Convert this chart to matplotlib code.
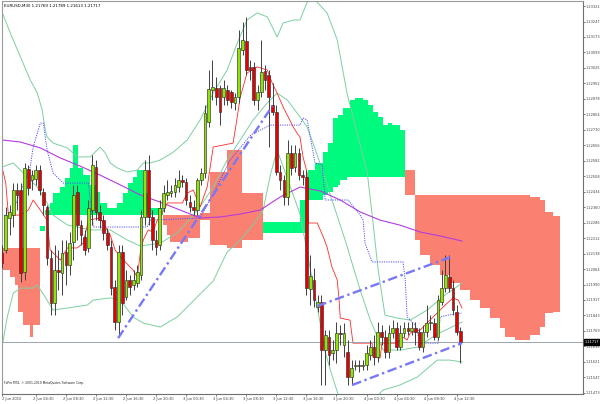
import matplotlib
matplotlib.use('Agg')
import matplotlib.pyplot as plt
import matplotlib.transforms as mtransforms
import numpy as np

title_txt = "EURUSD,M30 1.21769 1.21789 1.21613 1.21717"
copyright_txt = "FxPro MT4, \u00a9 2001-2010 MetaQuotes Software Corp."

# ---- OHLC (M30 bars, 2 Jun 2010 00:00 onwards) ----
opens = [1.22141,1.22155,1.22308,1.22322,1.22442,1.22442,1.22050,1.22542,1.22490,1.22494,
         1.22537,1.22432,1.22361,1.22117,1.21902,1.22059,1.22045,1.22145,1.22083,1.22193,
         1.22432,1.22274,1.22217,1.22165,1.22346,1.22552,1.22337,1.22298,1.22236,1.22169,
         1.21978,1.21811,1.22145,1.21930,1.22012,1.21988,1.21997,1.22035,1.22313,1.22537,
         1.22313,1.22203,1.22179,1.22356,1.22418,1.22427,1.22432,1.22456,1.22490,1.22480,
         1.22384,1.22361,1.22346,1.22490,1.22523,1.22767,1.22920,1.22929,1.22929,1.22886,
         1.22920,1.22910,1.22858,1.22886,1.23111,1.23154,1.23030,1.23030,1.22872,1.22910,
         1.23011,1.22991,1.22848,1.22815,1.22528,1.22490,1.22408,1.22619,1.22552,1.22619,
         1.22513,1.22504,1.21969,1.22012,1.21883,1.21906,1.21677,1.21739,1.21663,1.21677,
         1.21758,1.21701,1.21667,1.21548,1.21600,1.21605,1.21600,1.21605,1.21653,1.21691,
         1.21643,1.21763,1.21739,1.21667,1.21758,1.21782,1.21691,1.21758,1.21782,1.21768,
         1.21782,1.21763,1.21691,1.21763,1.21806,1.21806,1.21739,1.21906,1.21973,1.22026,
         1.21973,1.21859,1.21769]
highs = [1.22179,1.22361,1.22370,1.22475,1.22475,1.22475,1.22571,1.22561,1.22537,1.22561,
         1.22561,1.22451,1.22370,1.22155,1.22179,1.22155,1.22203,1.22203,1.22241,1.22466,
         1.22466,1.22298,1.22251,1.22394,1.22609,1.22585,1.22370,1.22322,1.22260,1.22203,
         1.22012,1.22179,1.22179,1.22059,1.22035,1.22059,1.22083,1.22346,1.22585,1.22609,
         1.22346,1.22251,1.22394,1.22466,1.22490,1.22466,1.22499,1.22537,1.22513,1.22499,
         1.22418,1.22394,1.22499,1.22547,1.22848,1.23015,1.23063,1.22982,1.22944,1.22968,
         1.22944,1.22920,1.22905,1.23207,1.23245,1.23269,1.23063,1.23054,1.22944,1.23159,
         1.23039,1.23015,1.22953,1.22848,1.22561,1.22513,1.22681,1.22657,1.22657,1.22643,
         1.22537,1.22537,1.22131,1.22069,1.21940,1.21940,1.21773,1.21773,1.21725,1.21811,
         1.21796,1.21806,1.21725,1.21629,1.21629,1.21629,1.21629,1.21701,1.21725,1.21749,
         1.21811,1.21796,1.21773,1.21796,1.21820,1.21811,1.21796,1.21811,1.21811,1.21811,
         1.21811,1.21782,1.21796,1.21892,1.21844,1.21830,1.21940,1.22059,1.22131,1.22131,
         1.22012,1.21892,1.21789]
lows = [1.22069,1.22141,1.22227,1.22265,1.22346,1.22002,1.22012,1.22418,1.22442,1.22466,
        1.22418,1.22322,1.22083,1.21844,1.21844,1.21964,1.21940,1.21988,1.22035,1.22107,
        1.22203,1.22179,1.22131,1.22145,1.22274,1.22298,1.22260,1.22203,1.22155,1.21940,
        1.21773,1.21749,1.21844,1.21916,1.21940,1.21964,1.21978,1.22012,1.22274,1.22274,
        1.22155,1.22131,1.22155,1.22337,1.22394,1.22408,1.22408,1.22432,1.22456,1.22370,
        1.22337,1.22322,1.22322,1.22466,1.22499,1.22743,1.22872,1.22848,1.22752,1.22848,
        1.22848,1.22834,1.22824,1.22858,1.23087,1.22991,1.22968,1.22848,1.22824,1.22886,
        1.22920,1.22647,1.22800,1.22513,1.22442,1.22370,1.22370,1.22513,1.22528,1.22490,
        1.22466,1.21940,1.21892,1.21883,1.21859,1.21510,1.21510,1.21605,1.21629,1.21615,
        1.21701,1.21643,1.21510,1.21510,1.21581,1.21572,1.21581,1.21581,1.21629,1.21605,
        1.21620,1.21701,1.21639,1.21639,1.21734,1.21677,1.21677,1.21739,1.21749,1.21749,
        1.21701,1.21677,1.21667,1.21739,1.21773,1.21725,1.21725,1.21892,1.21954,1.21954,
        1.21844,1.21749,1.21613]
closes = [1.22093,1.22322,1.22337,1.22442,1.22418,1.22045,1.22547,1.22451,1.22513,1.22537,
          1.22442,1.22370,1.22117,1.21902,1.22059,1.22050,1.22141,1.22083,1.22188,1.22418,
          1.22274,1.22227,1.22155,1.22356,1.22561,1.22337,1.22298,1.22236,1.22179,1.21973,
          1.21811,1.22145,1.21902,1.22012,1.21978,1.22012,1.22050,1.22313,1.22537,1.22313,
          1.22203,1.22169,1.22356,1.22427,1.22432,1.22437,1.22466,1.22490,1.22480,1.22394,
          1.22361,1.22346,1.22490,1.22523,1.22810,1.22925,1.22934,1.22886,1.22815,1.22929,
          1.22872,1.22862,1.22886,1.23121,1.23159,1.23015,1.23015,1.22872,1.22910,1.23006,
          1.22968,1.22886,1.22815,1.22528,1.22490,1.22408,1.22619,1.22547,1.22619,1.22513,
          1.22504,1.21973,1.22031,1.21916,1.21906,1.21677,1.21749,1.21653,1.21677,1.21758,
          1.21753,1.21758,1.21548,1.21591,1.21605,1.21600,1.21605,1.21663,1.21691,1.21643,
          1.21763,1.21739,1.21667,1.21758,1.21782,1.21691,1.21758,1.21782,1.21768,1.21782,
          1.21763,1.21691,1.21763,1.21806,1.21811,1.21739,1.21916,1.21973,1.22035,1.21973,
          1.21868,1.21763,1.21717]

# ---- Ichimoku cloud: bar where the value changes, Senkou span A, Senkou span B ----
cloud_x = [-0.45,2.2,3.5,4.3,5.7,7.5,8.3,10.2,11.5,12.8,13.6,15.5,16.8,18.2,19.0,20.3,21.6,23.5,25.3,
           26.1,28.0,30.7,32.3,33.6,34.9,36.0,37.6,38.9,42.9,44.0,44.8,49.5,52.7,55.4,56.7,59.9,63.9,
           69.5,79.3,81.5,83.3,85.5,86.8,88.1,89.4,90.0,90.8,91.8,92.6,94.0,96.1,97.4,98.7,100.1,
           101.4,102.7,103.8,105.9,107.3,109.9,111.3,113.9,116.6,119.2,121.9,124.5,127.2,129.9,
           132.5,133.9,136.5,140.5,143.2,144.5,146.6,148.5]
span_a = [1.22059,1.22026,1.21988,1.21859,1.21796,1.21739,1.21796,1.22270,1.22346,1.22380,
          1.22427,1.22456,1.22499,1.22547,1.22657,1.22547,1.22513,1.22466,1.22432,1.22380,
          1.22356,1.22380,1.22427,1.22475,1.22504,1.22537,1.22427,1.22356,1.22274,1.22227,
          1.22193,1.22212,1.22298,1.22179,1.22179,1.22165,1.22203,1.22289,1.22394,1.22537,
          1.22571,1.22623,1.22666,1.22786,1.22800,1.22800,1.22834,1.22834,1.22872,1.22882,
          1.22872,1.22848,1.22815,1.22791,1.22752,1.22762,1.22752,1.22729,1.22418,1.22203,
          1.22131,1.22083,1.22035,1.21997,1.21964,1.21916,1.21878,1.21830,1.21782,1.21739,
          1.21725,1.21749,1.21787,1.21854,1.21859]
span_b = [1.22165,1.22165,1.22165,1.22165,1.22165,1.22165,1.22165,1.22246,1.22322,1.22322,
          1.22322,1.22322,1.22322,1.22322,1.22322,1.22322,1.22322,1.22322,1.22322,1.22322,
          1.22322,1.22322,1.22322,1.22322,1.22322,1.22322,1.22322,1.22322,1.22322,1.22322,
          1.22322,1.22322,1.22332,1.22528,1.22528,1.22633,1.22427,1.22236,1.22236,1.22394,
          1.22394,1.22418,1.22432,1.22456,1.22466,1.22490,1.22490,1.22504,1.22504,1.22504,
          1.22504,1.22504,1.22504,1.22504,1.22504,1.22504,1.22504,1.22504,1.22537,1.22418,
          1.22418,1.22418,1.22418,1.22418,1.22418,1.22418,1.22418,1.22418,1.22418,1.22418,
          1.22418,1.22408,1.22394,1.22337,1.22318]

# ---- indicator lines (bar, price) ----
tenkan_x = [0,1,1.7,4.9,7,8.3,10.2,12,12.8,14.2,15.5,17.4,20,21.6,23,26.1,28.8,30.1,32.3,34.9,36,
            36.8,37.6,38.9,40.2,41.3,42.1,44,48,49.3,50.9,52.7,54.6,56.2,61.5,62.6,63.4,65.2,67.9,
            70.6,71.9,73.2,74.8,77.5,78.5,79.3,80.1,81.2,81.5,83.9,85.5,86.5,87.8,89.2,89.7,90,
            92.6,93.4,98.5,98.7,100.6,101.1,105.1,106.7,107.8,108.6,111.3,113.1,115.8,117.4,120,
            121.4,122.4]
tenkan_y = [1.22552,1.22475,1.22322,1.22322,1.22346,1.22394,1.22346,1.22298,1.22155,1.22131,1.22107,
            1.22165,1.22165,1.22188,1.22298,1.22308,1.22227,1.22155,1.22107,1.22059,1.22026,1.22141,
            1.22203,1.22251,1.22241,1.22298,1.22313,1.22380,1.22380,1.22427,1.22442,1.22361,1.22456,
            1.22647,1.22666,1.22791,1.22886,1.23001,1.23030,1.23015,1.22953,1.22905,1.22839,1.22743,
            1.22714,1.22695,1.22600,1.22523,1.22284,1.22284,1.22217,1.22169,1.22074,1.22012,1.21916,
            1.21830,1.21820,1.21710,1.21710,1.21643,1.21639,1.21710,1.21710,1.21739,1.21725,1.21758,
            1.21773,1.21806,1.21854,1.21883,1.21926,1.21916,1.21878]
kijun_x = [0,3.0,7.5,8.3,10.2,11.0,12.0,13.6,16.3,23.0,24.3,38.6,39.4,52.7,56.7,60.7,66.2,71.4,79.3,
           80.1,81.2,83.3,85.2,86.0,92.1,95.3,96.1,96.6,98.5,106.7,107.3,107.8,110.0,111.3,116.0,
           116.6,118.7,122.4]
kijun_y = [1.22313,1.22346,1.22552,1.22647,1.22762,1.22762,1.22633,1.22523,1.22475,1.22475,1.22265,
           1.22265,1.22298,1.22308,1.22442,1.22585,1.22705,1.22752,1.22752,1.22786,1.22776,1.22571,
           1.22561,1.22394,1.22394,1.22322,1.22298,1.22188,1.22098,1.22098,1.22012,1.21835,1.21796,
           1.21710,1.21710,1.21835,1.21844,1.21854]
ma_x = [0,4.9,10.2,15.5,20.8,26.1,31.5,36.8,42.1,47.4,52.7,58.1,63.4,68.7,74,79.3,84.7,90,95.3,
        100.6,105.9,111.3,116.6,122.4]
ma_y = [1.22681,1.22671,1.22643,1.22595,1.22556,1.22513,1.22466,1.22418,1.22384,1.22346,1.22308,
        1.22313,1.22327,1.22346,1.22408,1.22456,1.22437,1.22394,1.22337,1.22298,1.22274,1.22241,
        1.22222,1.22198]
bb_up_x = [0,2.2,4.9,7.5,9.4,10.7,11.5,12.0,13.6,17.4,20.0,23.5,26.1,27.5,28.8,30.7,33.3,36.0,37.6,
           39.4,42.1,45.6,49.3,52.7,56.2,59.9,62.6,65.2,67.9,70.6,71.9,73.2,74.8,77.5,79.3,81.2,83.3,
           86.5,89.2,91.8,94.5,97.2,98.5,100.1,101.9,105.1,108.6,113.1,117.9,122.4]
bb_up_y = [1.23293,1.23192,1.23078,1.22968,1.22905,1.22824,1.22729,1.22695,1.22666,1.22643,1.22600,
           1.22600,1.22647,1.22619,1.22571,1.22547,1.22528,1.22537,1.22571,1.22571,1.22585,1.22623,
           1.22681,1.22776,1.22905,1.23015,1.23144,1.23254,1.23288,1.23269,1.23221,1.23173,1.23240,
           1.23254,1.23254,1.23340,1.23350,1.23288,1.23159,1.22905,1.22714,1.22523,1.22322,1.22059,
           1.21844,1.21830,1.21820,1.21868,1.21940,1.21997]
bb_mid_x = [0,3.0,6.7,9.4,12.0,13.6,17.4,23.5,28.8,33.3,36.8,42.1,46.6,49.3,52.7,56.2,59.9,63.4,
            66.8,70.6,73.2,75.9,79.3,81.2,83.9,87.8,91.3,95.3,98.0,101.4,105.9,110.5,115.8,122.4]
bb_mid_y = [1.22552,1.22571,1.22504,1.22456,1.22380,1.22322,1.22275,1.22251,1.22251,1.22203,1.22174,
            1.22188,1.22236,1.22289,1.22361,1.22456,1.22585,1.22681,1.22776,1.22858,1.22905,1.22872,
            1.22791,1.22743,1.22609,1.22394,1.22203,1.21964,1.21820,1.21677,1.21677,1.21691,1.21753,
            1.21811]
bb_low_x = [0,1.4,3.0,4.9,8.3,9.4,11.5,13.6,22.7,24.3,28.8,31.5,34.9,37.6,42.1,46.6,49.3,52.7,56.2,
            59.9,63.4,66.8,69.5,71.4,73.2,75.9,79.3,81.2,83.9,86.0,87.8,89.5,92.6,96.6,100.1,101.4,
            105.9,110.5,115.8,119.2,122.4]
bb_low_y = [1.21691,1.21835,1.21949,1.21973,1.21973,1.21988,1.21930,1.21868,1.21892,1.21916,1.21926,
            1.21916,1.21835,1.21806,1.21787,1.21835,1.21883,1.21945,1.22007,1.22145,1.22203,1.22275,
            1.22346,1.22513,1.22633,1.22499,1.22327,1.22145,1.21883,1.21667,1.21557,1.21462,1.21342,
            1.21342,1.21462,1.21486,1.21510,1.21548,1.21629,1.21629,1.21620]

# ---- trend lines ----
trend_lines = [((30.9, 1.21734), (71.9, 1.22843)),
               ((83.9, 1.21887), (119.5, 1.22122)),
               ((93.2, 1.21510), (122.4, 1.21710))]

last_price = 1.21717
price_ticks = [1.21473,1.21547,1.21621,1.21695,1.21769,1.21843,1.21917,1.21990,1.22064,1.22138,
               1.22212,1.22286,1.22360,1.22434,1.22508,1.22582,1.22656,1.22730,1.22804,1.22878,
               1.22952,1.23025,1.23099,1.23173,1.23247,1.23321]
time_ticks = [0,9,17,25,33,41,49,57,65,73,81,89,97,105,113,121]
time_labels = ["2 Jun 2010","2 Jun 04:30","2 Jun 08:30","2 Jun 12:30","2 Jun 16:30","2 Jun 20:30",
               "3 Jun 00:30","3 Jun 04:30","3 Jun 08:30","3 Jun 12:30","3 Jun 16:30","3 Jun 20:30",
               "4 Jun 00:30","4 Jun 04:30","4 Jun 08:30","4 Jun 12:30"]

plt.rcParams['font.family'] = ['DejaVu Sans']
fig = plt.figure(figsize=(6, 4.04), dpi=100)
ax = fig.add_axes([2/600, 10/404, 581/600, 393/404])
ax.set_xlim(0.08, 154.6)
ax.set_ylim(1.21467, 1.23345)

# cloud (histogram-like blocks)
for i in range(len(span_a)):
    col = '#00FA7D' if span_a[i] >= span_b[i] else '#FA8072'
    ax.fill_between([cloud_x[i], cloud_x[i + 1]], span_a[i], span_b[i], color=col, lw=0, zorder=1)

# indicator lines
band_col = '#7DCFA0'
ax.plot(bb_up_x, bb_up_y, color=band_col, lw=0.7, zorder=2)
ax.plot(bb_mid_x, bb_mid_y, color=band_col, lw=0.7, zorder=2)
ax.plot(bb_low_x, bb_low_y, color=band_col, lw=0.7, zorder=2)
ax.plot(ma_x, ma_y, color='#B43CDC', lw=0.8, zorder=2)
ax.plot(kijun_x, kijun_y, color='#5050FF', lw=0.7, ls=(0, (1.2, 1.2)), zorder=2)
ax.plot(tenkan_x, tenkan_y, color='#FF2A2A', lw=0.6, zorder=2)

# candles
idx = np.arange(len(opens))
o = np.array(opens); c = np.array(closes); h = np.array(highs); l = np.array(lows)
ax.vlines(idx, l, h, color='#404040', lw=0.7, zorder=3)
up = c >= o
ax.bar(idx[up], (c - o)[up], bottom=o[up], width=0.72, color='#8CE600', edgecolor='#303030', lw=0.45, zorder=4)
ax.bar(idx[~up], (o - c)[~up], bottom=c[~up], width=0.72, color='#E80000', edgecolor='#303030', lw=0.45, zorder=4)

# trend lines
for (x0, y0), (x1, y1) in trend_lines:
    ax.plot([x0, x1], [y0, y1], color='#7878F8', lw=1.7, ls=(0, (4, 1.5, 1, 1.5)), zorder=5)

# last price line
ax.axhline(last_price, color='#9AA6B2', lw=0.7, zorder=2.5)

# axes styling
for s in ['left', 'top']:
    ax.spines[s].set_color('#9A9A9A'); ax.spines[s].set_linewidth(0.8)
for s in ['right', 'bottom']:
    ax.spines[s].set_color('#707070'); ax.spines[s].set_linewidth(0.8)
ax.yaxis.tick_right()
ax.set_yticks(price_ticks)
ax.set_yticklabels([f"{v:.5f}" for v in price_ticks])
ax.tick_params(axis='y', length=1.5, width=0.5, colors='#404040', labelsize=2.55, pad=0.6)
ax.set_xticks(time_ticks)
ax.set_xticklabels(time_labels)
ax.tick_params(axis='x', length=1.5, width=0.5, colors='#404040', labelsize=2.6, pad=0.8)
for k, lab in enumerate(ax.get_xticklabels()):
    lab.set_horizontalalignment('left')
    shift = 0.0 if k == 0 else -3/100
    lab.set_transform(lab.get_transform() + mtransforms.ScaledTranslation(shift, 0, fig.dpi_scale_trans))

# last price label box
ax.text(1.0035, last_price, f"{last_price:.5f}", transform=ax.get_yaxis_transform(), fontsize=2.55,
        color='white', va='center', ha='left', zorder=10,
        bbox=dict(boxstyle='square,pad=0.25', fc='black', ec='black'), clip_on=False)

ax.text(0.004, 0.993, title_txt, transform=ax.transAxes, fontsize=2.85, color='black', va='top', ha='left')
ax.text(0.003, 0.024, copyright_txt, transform=ax.transAxes, fontsize=2.2, color='#202020', va='bottom', ha='left')

fig.savefig('out.png', dpi=100, facecolor='white')
